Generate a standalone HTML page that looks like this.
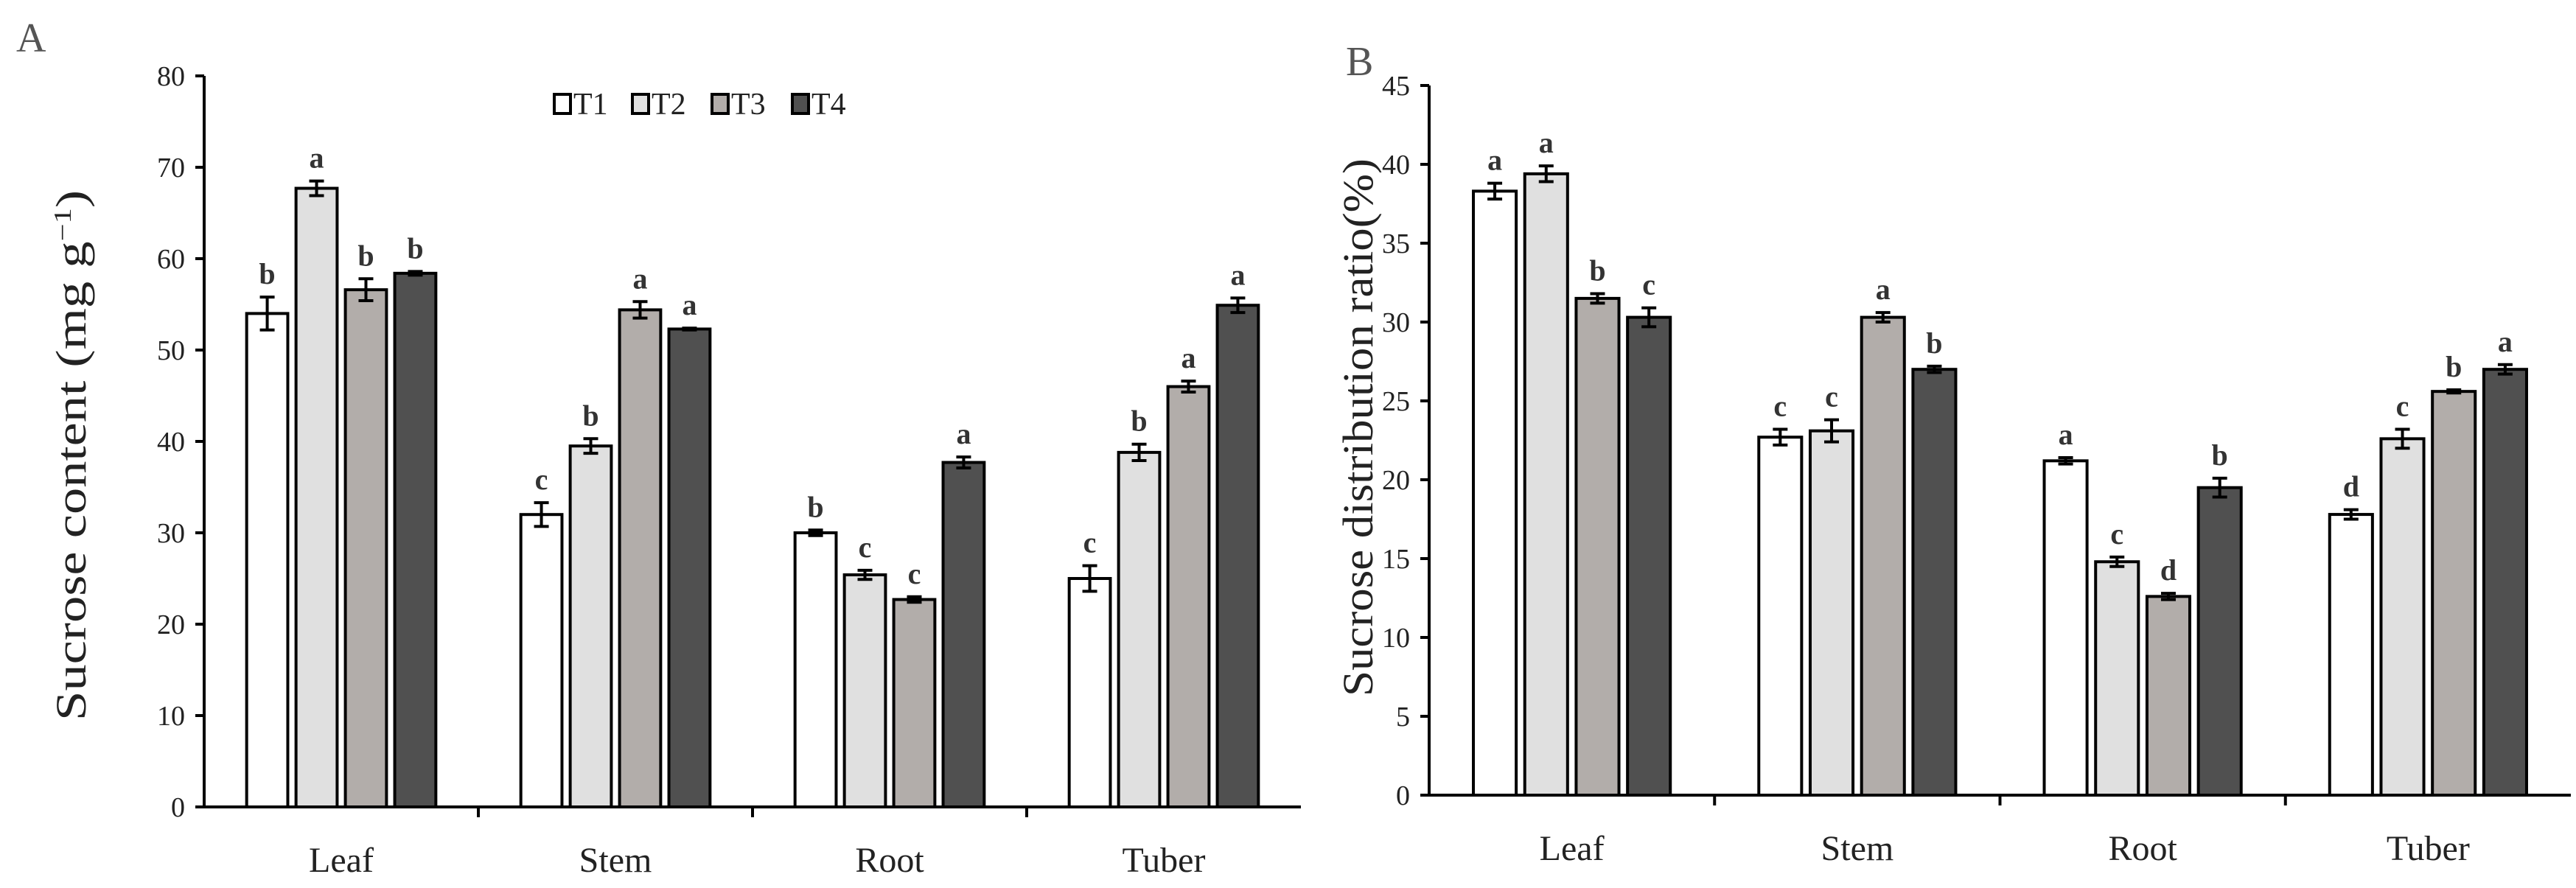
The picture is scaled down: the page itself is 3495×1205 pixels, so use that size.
<!DOCTYPE html>
<html><head><meta charset="utf-8"><style>
html,body{margin:0;padding:0;background:#fff;}
svg{display:block;font-family:"Liberation Serif",serif;}
</style></head><body>
<svg id="fig" width="3495" height="1205" viewBox="0 0 3495 1205" xmlns="http://www.w3.org/2000/svg">
<text x="22" y="70" font-size="56" fill="#555">A</text>
<text x="1826" y="102" font-size="56" fill="#555">B</text>
<g id="legend"></g>
</svg>
<script>
const categories = ["Leaf","Stem","Root","Tuber"];
const seriesNames = ["T1","T2","T3","T4"];
const colors = ["#ffffff","#e0e0e0","#b2adaa","#505050"];
// Panel A: sucrose content
const aT1 = [54.0, 32.0, 30.0, 25.0];
const aT2 = [67.7, 39.5, 25.4, 38.8];
const aT3 = [56.6, 54.4, 22.7, 46.0];
const aT4 = [58.4, 52.3, 37.7, 54.9];
const aErrT1 = [1.8, 1.3, 0.3, 1.4];
const aErrT2 = [0.8, 0.8, 0.5, 0.9];
const aErrT3 = [1.2, 0.9, 0.3, 0.6];
const aErrT4 = [0.2, 0.1, 0.6, 0.8];
const aLetters = [["b","c","b","c"],["a","b","c","b"],["b","a","c","a"],["b","a","a","a"]];
const aTicks = [0,10,20,30,40,50,60,70,80];
// Panel B: distribution ratio
const bT1 = [38.3, 22.7, 21.2, 17.8];
const bT2 = [39.4, 23.1, 14.8, 22.6];
const bT3 = [31.5, 30.3, 12.6, 25.6];
const bT4 = [30.3, 27.0, 19.5, 27.0];
const bErrT1 = [0.5, 0.5, 0.2, 0.3];
const bErrT2 = [0.5, 0.7, 0.3, 0.6];
const bErrT3 = [0.3, 0.3, 0.2, 0.1];
const bErrT4 = [0.6, 0.2, 0.6, 0.3];
const bLetters = [["a","c","a","d"],["a","c","c","c"],["b","a","d","b"],["c","b","b","a"]];
const bTicks = [0,5,10,15,20,25,30,35,40,45];

const NS="http://www.w3.org/2000/svg";
const svg=document.getElementById('fig');
function mk(tag,attrs,parent){const e=document.createElementNS(NS,tag);for(const k in attrs)e.setAttribute(k,attrs[k]);(parent||svg).appendChild(e);return e;}

function drawPanel(p){
  const g=mk('g',{});
  
  
  const yMax=p.ticks[p.ticks.length-1];
  const y=v=>p.y0-(v/yMax)*(p.y0-p.y1);
  const cw=(p.x1-p.x0)/categories.length;
  const x=i=>p.x0+cw*i;
  p.ticks.forEach(t=>{
    mk('line',{x1:p.x0-12,x2:p.x0,y1:y(t),y2:y(t),stroke:'#000','stroke-width':4},g);
    const tx=mk('text',{x:p.x0-26,y:y(t)+13,'font-size':38,'text-anchor':'end',fill:'#222'},g);
    tx.textContent=t;
    
    
  });
  const series=[p.s1,p.s2,p.s3,p.s4];
  const errs=[p.e1,p.e2,p.e3,p.e4];
  categories.forEach((c,ci)=>{
    if(ci>0) mk('line',{x1:x(ci),x2:x(ci),y1:p.y0,y2:p.y0+14,stroke:'#000','stroke-width':4},g);
    const cl=mk('text',{x:x(ci)+cw/2,y:p.y0+88,'font-size':48,'text-anchor':'middle',fill:'#222'},g);
    cl.textContent=c;
    
    
    const bw=cw*0.15, pitch=cw*0.18;
    const start=x(ci)+cw/2-(pitch*3+bw)/2;
    for(let s=0;s<4;s++){
      const v=series[s][ci], e=errs[s][ci];
      const bx=start+pitch*s;
      const r=mk('rect',{x:bx,y:y(v),width:bw,height:p.y0-y(v),fill:colors[s],stroke:'#000','stroke-width':4},g);
      
      
      const cx=bx+bw/2;
      mk('line',{x1:cx,x2:cx,y1:y(v+e),y2:y(v-e),stroke:'#000','stroke-width':4},g);
      mk('line',{x1:cx-10,x2:cx+10,y1:y(v+e),y2:y(v+e),stroke:'#000','stroke-width':4},g);
      mk('line',{x1:cx-10,x2:cx+10,y1:y(v-e),y2:y(v-e),stroke:'#000','stroke-width':4},g);
      const lt=mk('text',{x:cx,y:y(v+e)-18,'font-size':40,'font-weight':'bold','text-anchor':'middle',fill:'#333'},g);
      lt.textContent=p.letters[s][ci];
      
      
    }
  });
  mk('line',{x1:p.x0,x2:p.x0,y1:p.y1,y2:p.y0+2,stroke:'#000','stroke-width':4},g);
  mk('line',{x1:p.x0-2,x2:p.x1,y1:p.y0,y2:p.y0,stroke:'#000','stroke-width':4},g);
  const at=mk('text',{x:0,y:0,'font-size':58,'text-anchor':'middle',fill:'#222',textLength:p.titleLen,lengthAdjust:'spacingAndGlyphs',transform:`translate(${p.titleX},${p.titleY}) rotate(-90)`},g);
  at.innerHTML=p.title;
  
  
}
drawPanel({name:'panel-a-chart',x0:277,x1:1765,y0:1095,y1:103,ticks:aTicks,s1:aT1,s2:aT2,s3:aT3,s4:aT4,e1:aErrT1,e2:aErrT2,e3:aErrT3,e4:aErrT4,letters:aLetters,titleX:116,titleY:618,titleLen:720,title:'Sucrose content (mg g<tspan dy="-20" font-size="34">−1</tspan><tspan dy="20">)</tspan>'});
drawPanel({name:'panel-b-chart',x0:1939,x1:3488,y0:1079,y1:116,ticks:bTicks,s1:bT1,s2:bT2,s3:bT3,s4:bT4,e1:bErrT1,e2:bErrT2,e3:bErrT3,e4:bErrT4,letters:bLetters,titleX:1862,titleY:580,titleLen:730,title:'Sucrose distribution ratio(%)'});
const lg=document.getElementById('legend');
const lx=[752,858,966,1075];
seriesNames.forEach((n,i)=>{
  const r=mk('rect',{x:lx[i],y:128,width:22,height:26,fill:colors[i],stroke:'#000','stroke-width':4},lg);
  
  
  const t=mk('text',{x:lx[i]+26,y:155,'font-size':42,fill:'#222'},lg);
  t.textContent=n;
  
  
});
</script>
</body></html>
